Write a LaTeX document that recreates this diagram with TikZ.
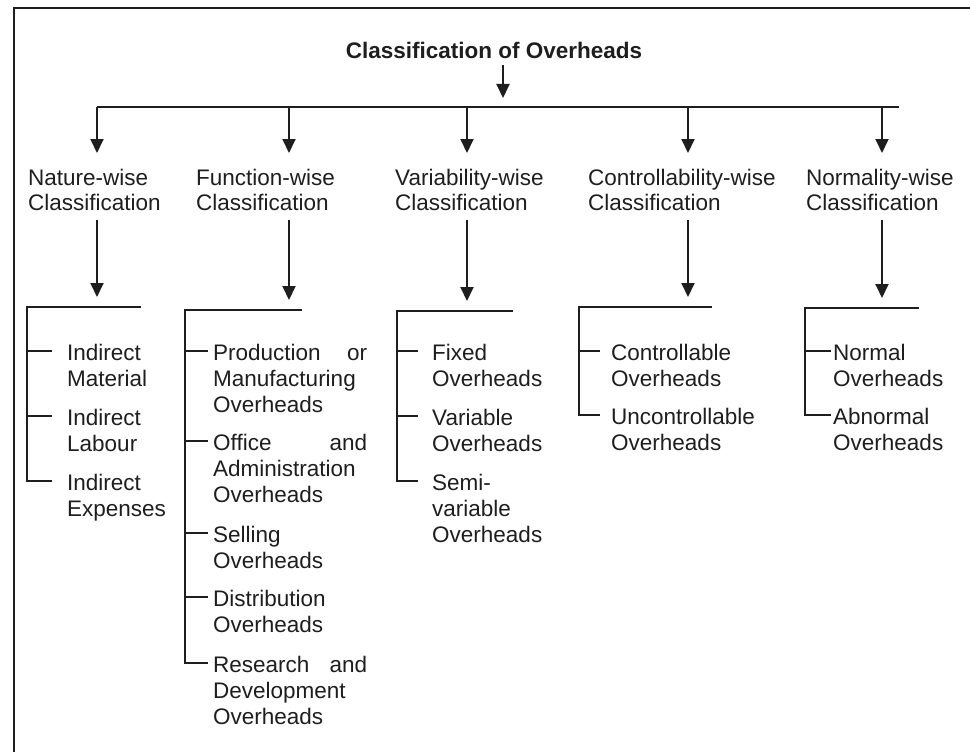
\documentclass[tikz,border=0pt]{standalone}
\usepackage{fontspec}
\setmainfont{Liberation Sans}
\usetikzlibrary{arrows.meta}
\definecolor{ink}{HTML}{1E1E1E}
\begin{document}
\begin{tikzpicture}[x=1pt,y=-1pt,
  line/.style={draw=ink,line width=1.9pt},
  arr/.style={line,-{Triangle[length=14pt,width=13pt]}},
  txt/.style={inner sep=0pt,anchor=base west,text=ink,align=left,
    font=\fontsize{22.5}{26}\selectfont},
  cat/.style={txt,text width=190pt,font=\fontsize{22.5}{25}\selectfont},
  item/.style={txt,text width=200pt},
  jitem/.style={txt,text width=154pt}]
\useasboundingbox (0,0) rectangle (970,752);

% outer frame (top and left edges)
\draw[line] (14,752) -- (14,8) -- (970,8);

% title and main bus
\node[inner sep=0pt,anchor=base,text=ink,font=\fontsize{22.5}{26}\selectfont\bfseries]
  (title) at (494,59) {Classification of Overheads};
\coordinate (bus) at (503,107);
\coordinate (busL) at (97,107);
\coordinate (busR) at (899,107);
\draw[arr,shorten <=6pt,shorten >=9pt] (title.south -| bus) -- (bus);
\draw[line] (busL) -- (busR);

% drop points and bracket tops
\foreach \i/\x in {1/97,2/289,3/467,4/688,5/882}{
  \coordinate (d\i) at (\x,153);
}
\coordinate (t1) at (97,307);  \coordinate (tl1) at (27,307);  \coordinate (tr1) at (141,307);
\coordinate (t2) at (289,310); \coordinate (tl2) at (185,310); \coordinate (tr2) at (302,310);
\coordinate (t3) at (467,311); \coordinate (tl3) at (397,311); \coordinate (tr3) at (513,311);
\coordinate (t4) at (688,307); \coordinate (tl4) at (579,307); \coordinate (tr4) at (712,307);
\coordinate (t5) at (882,308); \coordinate (tl5) at (805,308); \coordinate (tr5) at (919,308);

\foreach \i in {1,...,5}{
  \draw[arr] (d\i |- bus) -- (d\i);
}

% category headings
\node[cat] (L1) at (28,185)  {Nature-wise\\Classification};
\node[cat] (L2) at (196,185) {Function-wise\\Classification};
\node[cat] (L3) at (395,185) {Variability-wise\\Classification};
\node[cat] (L4) at (588,185) {Controllability-wise\\Classification};
\node[cat] (L5) at (806,185) {Normality-wise\\Classification};

\foreach \i in {1,...,5}{
  \draw[arr,shorten <=10pt,shorten >=10pt] (L\i.south -| t\i) -- (t\i);
}

% nature-wise items
\node[item] (n1) at (67,360) {Indirect\\Material};
\node[item] (n2) at (67,425) {Indirect\\Labour};
\node[item] (n3) at (67,490) {Indirect\\Expenses};
\draw[line] (tr1) -- (tl1) |- ([xshift=-15pt,yshift=9pt]n3.base west);
\draw[line] (tl1) |- ([xshift=-15pt,yshift=9pt]n1.base west);
\draw[line] (tl1) |- ([xshift=-15pt,yshift=9pt]n2.base west);

% function-wise items
\node[jitem] (f1) at (213,360) {Production\hfill or\\Manufacturing\\Overheads};
\node[jitem] (f2) at (213,450) {Office\hfill and\\Administration\\Overheads};
\node[jitem] (f3) at (213,542) {Selling\\Overheads};
\node[jitem] (f4) at (213,606) {Distribution\\Overheads};
\node[jitem] (f5) at (213,672) {Research\hfill and\\Development\\Overheads};
\draw[line] (tr2) -- (tl2) |- ([xshift=-5pt,yshift=9pt]f5.base west);
\foreach \k in {1,...,4}{
  \draw[line] (tl2) |- ([xshift=-5pt,yshift=9pt]f\k.base west);
}

% variability-wise items
\node[item] (v1) at (432,360) {Fixed\\Overheads};
\node[item] (v2) at (432,425) {Variable\\Overheads};
\node[item] (v3) at (432,490) {Semi-\\variable\\Overheads};
\draw[line] (tr3) -- (tl3) |- ([xshift=-14pt,yshift=9pt]v3.base west);
\draw[line] (tl3) |- ([xshift=-14pt,yshift=9pt]v1.base west);
\draw[line] (tl3) |- ([xshift=-14pt,yshift=9pt]v2.base west);

% controllability-wise items
\node[item] (c1) at (611,360) {Controllable\\Overheads};
\node[item] (c2) at (611,424) {Uncontrollable\\Overheads};
\draw[line] (tr4) -- (tl4) |- ([xshift=-11pt,yshift=9pt]c2.base west);
\draw[line] (tl4) |- ([xshift=-11pt,yshift=9pt]c1.base west);

% normality-wise items
\node[item] (m1) at (833,360) {Normal\\Overheads};
\node[item] (m2) at (833,424) {Abnormal\\Overheads};
\draw[line] (tr5) -- (tl5) |- ([xshift=-2pt,yshift=9pt]m2.base west);
\draw[line] (tl5) |- ([xshift=-2pt,yshift=9pt]m1.base west);
\end{tikzpicture}
\end{document}
